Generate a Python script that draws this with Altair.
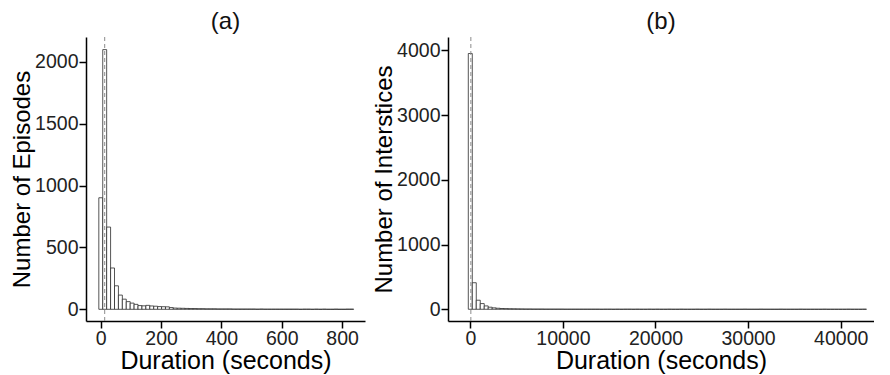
import altair as alt
import pandas as pd
import numpy as np

# Panel (a): episode durations, bin width 13 s, first bin centred on 0
a_binwidth = 13
a_counts = [902, 2100, 665, 334, 190, 115, 82, 62, 50, 40, 30, 28, 32, 27, 25, 22, 21, 20, 14, 10,
            9, 8, 7, 6, 6, 5, 5, 4, 4, 4, 3, 3, 3, 3, 2, 2, 2, 2, 2, 2,
            1, 2, 1, 1, 1, 1, 1, 1, 1, 1, 1, 0, 1, 1, 0, 1, 0, 1, 0, 0,
            1, 0, 0, 1, 1]
a_median = 13

# Panel (b): interstice durations, bin width 430 s, first bin centred on 0
b_binwidth = 430
b_counts = [3950, 410, 140, 88, 52, 32, 22, 16, 12, 10, 8, 7, 6, 5, 4, 4, 3, 3, 3, 2,
            2, 2, 2, 2, 1, 1, 1, 1, 1, 1, 1, 1, 1, 0, 1, 1, 0, 1, 0, 1,
            1, 0, 1, 0, 0, 1, 0, 1, 0, 0, 1, 0, 0, 1, 0, 0, 0, 1, 0, 0,
            1, 0, 0, 0, 1, 0, 0, 0, 0, 1, 0, 0, 0, 1, 0, 0, 0, 0, 1, 0,
            0, 0, 0, 1, 0, 0, 0, 0, 0, 1, 0, 0, 0, 0, 0, 1, 0, 0, 0, 1]
b_median = 60

a_xticks = [0, 200, 400, 600, 800]
a_yticks = [0, 500, 1000, 1500, 2000]
b_xticks = [0, 10000, 20000, 30000, 40000]
b_yticks = [0, 1000, 2000, 3000, 4000]

FONT = "Liberation Sans"


def make_df(counts, bw):
    n = len(counts)
    centres = np.arange(n) * bw
    return pd.DataFrame({"x0": centres - bw / 2, "x1": centres + bw / 2, "count": counts})


def panel(counts, bw, median, xdom, ydom, xticks, yticks, ytitle, title, w, h):
    df = make_df(counts, bw)
    xs = alt.Scale(domain=xdom, nice=False, zero=False)
    ys = alt.Scale(domain=ydom, nice=False, zero=False)
    bars = alt.Chart(df).mark_rect(fill="white", stroke="#2b2b2b", strokeWidth=0.8).encode(
        x=alt.X("x0:Q", scale=xs, title="Duration (seconds)",
                axis=alt.Axis(values=xticks, format="d", titlePadding=1, labelPadding=1)),
        x2="x1:Q",
        y=alt.Y("count:Q", scale=ys, title=ytitle,
                axis=alt.Axis(values=yticks, format="d", titlePadding=0, labelPadding=1,
                              titleFontSize=24)),
        y2=alt.datum(0),
    )
    vline = alt.Chart(pd.DataFrame({"m": [median]})).mark_rule(
        color="#8c8c8c", strokeDash=[4, 3], strokeWidth=1
    ).encode(x=alt.X("m:Q", scale=xs))
    return alt.layer(bars, vline).properties(
        width=w, height=h,
        title=alt.TitleParams(title, fontSize=24, fontWeight="normal", font=FONT,
                              anchor="middle", offset=3, color="#111"),
    )


pa = panel(a_counts, a_binwidth, a_median, [-49, 876], [-94.6, 2202],
           a_xticks, a_yticks, "Number of Episodes", "(a)", 279, 284)
pb = panel(b_counts, b_binwidth, b_median, [-2408, 43596], [-181, 4205],
           b_xticks, b_yticks, "Number of Interstices", "(b)", 426, 284)

chart = alt.hconcat(pa, pb, spacing=7).properties(
    padding={"left": 2, "top": 1, "right": 0, "bottom": 0},
    background="white",
).configure_view(stroke=None).configure_axis(
    grid=False,
    domainColor="black", domainWidth=1.5,
    tickColor="black", tickWidth=1.5, tickSize=7,
    labelFont=FONT, labelFontSize=19.5, labelColor="#222",
    titleFont=FONT, titleFontSize=25, titleFontWeight="normal", titleColor="black",
)

chart.save("out.html", embed_options={"renderer": "svg", "actions": False})
